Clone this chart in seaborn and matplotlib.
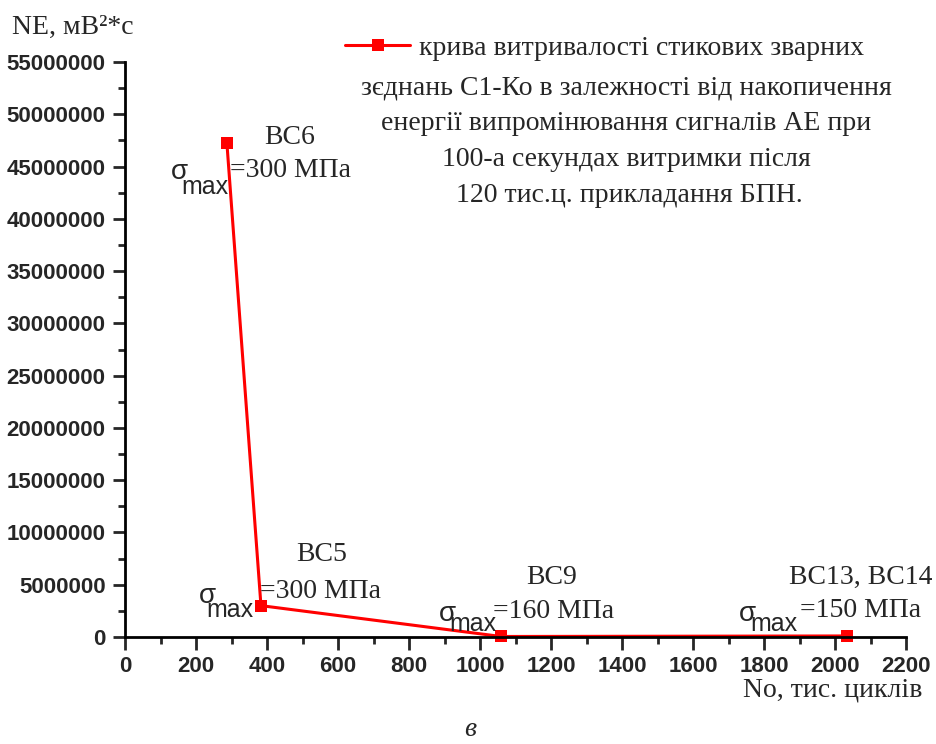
import matplotlib
matplotlib.use("Agg")
import numpy as np
import pandas as pd
import seaborn as sns
import matplotlib.pyplot as plt
from matplotlib.ticker import MultipleLocator, FuncFormatter

# data
cycles = [287, 383, 1059, 2034]              # No, тис. циклів
energy = [47250000, 3000000, 50000, 100000]  # NE, мВ^2*с
specimens = ["BC6", "BC5", "BC9", "BC13, BC14"]
stress = ["=300 МПа", "=300 МПа", "=160 МПа", "=150 МПа"]

legend_lines = [
    "крива витривалості стикових зварних",
    "зєднань С1-Ко в залежності від накопичення",
    "енергії випромінювання сигналів АЕ при",
    "100-а секундах витримки після",
    " 120 тис.ц. прикладання БПН.",
]

x_ticks = np.arange(0, 2201, 200)
y_ticks = np.arange(0, 55000001, 5000000)

# label offsets in pixels from each point: (name, sigma, max, stress text)
name_off = [(63, 6), (61, 51), (51, 59), (14, 59)]
sig_off = [(-47, -29), (-54, 10), (-54, 22), (-100, 22)]
max_off = [(-22, -44), (-31, -4), (-28, 12), (-73, 12)]
val_off = [(3, -27), (-1, 14), (-8, 25), (-47, 25)]

SERIF = "Liberation Serif"
SANS = "Liberation Sans"

sns.set_style("ticks")
plt.rcParams["font.family"] = [SANS, "DejaVu Sans"]

df = pd.DataFrame({"No": cycles, "NE": energy})

fig = plt.figure(figsize=(9.36, 7.44), dpi=100)
ax = fig.add_axes([125 / 936, 1 - 637 / 744, 781 / 936, 575 / 744])

sns.lineplot(data=df, x="No", y="NE", ax=ax, color="#ff0000", linewidth=2.2,
             marker="s", markersize=9, markeredgewidth=0, label=legend_lines[0])

ax.set_xlim(0, 2200)
ax.set_ylim(0, 55000000)
ax.set_xticks(x_ticks)
ax.set_yticks(y_ticks)
ax.xaxis.set_minor_locator(MultipleLocator(100))
ax.yaxis.set_minor_locator(MultipleLocator(2500000))
ax.yaxis.set_major_formatter(FuncFormatter(lambda v, p: f"{int(v)}"))
ax.xaxis.set_major_formatter(FuncFormatter(lambda v, p: f"{int(v)}"))
for lab in ax.get_xticklabels() + ax.get_yticklabels():
    lab.set_fontweight("bold")
    lab.set_fontsize(16)
    lab.set_family(SANS)
ax.tick_params(which="major", length=9, width=2, direction="out", pad=5)
ax.tick_params(which="minor", length=5, width=2, direction="out")
ax.set_xlabel("")
ax.set_ylabel("")
for side in ["top", "right"]:
    ax.spines[side].set_visible(False)
for side in ["left", "bottom"]:
    ax.spines[side].set_linewidth(2)
    ax.spines[side].set_color("black")
for ln in ax.lines:
    ln.set_clip_on(False)

# legend: handle + first line, then the rest centred below
leg = ax.legend(loc="center left", bbox_to_anchor=(345 / 936, 1 - 48 / 744),
                bbox_transform=fig.transFigure, frameon=False, borderpad=0,
                borderaxespad=0, handlelength=2.35, handletextpad=0.3,
                prop={"family": SERIF, "size": 20})
for i, line in enumerate(legend_lines[1:]):
    fig.text(626 / 936, 1 - (88 + i * 36) / 744, line, ha="center", va="center",
             family=SERIF, fontsize=20)

# point annotations
for i in range(len(cycles)):
    pt = (cycles[i], energy[i])
    ax.annotate(specimens[i], pt, xytext=name_off[i], textcoords="offset pixels",
                ha="center", va="center", family=SERIF, fontsize=20,
                annotation_clip=False)
    ax.annotate("σ", pt, xytext=sig_off[i], textcoords="offset pixels",
                ha="center", va="center", family=SANS, fontsize=20,
                annotation_clip=False)
    ax.annotate("max", pt, xytext=max_off[i], textcoords="offset pixels",
                ha="center", va="center", family=SANS, fontsize=18,
                annotation_clip=False)
    ax.annotate(stress[i], pt, xytext=val_off[i], textcoords="offset pixels",
                ha="left", va="center", family=SERIF, fontsize=20,
                annotation_clip=False)

# axis titles
fig.text(12 / 936, 1 - 27 / 744, "NE, мВ²*с", ha="left", va="center",
         family=SERIF, fontsize=20)
fig.text(922 / 936, 1 - 690 / 744, "No, тис. циклів", ha="right", va="center",
         family=SERIF, fontsize=20)
fig.text(470 / 936, 1 - 730 / 744, "в", ha="center", va="center",
         family=SERIF, fontsize=20, style="italic")

fig.savefig("out.png", dpi=100)
